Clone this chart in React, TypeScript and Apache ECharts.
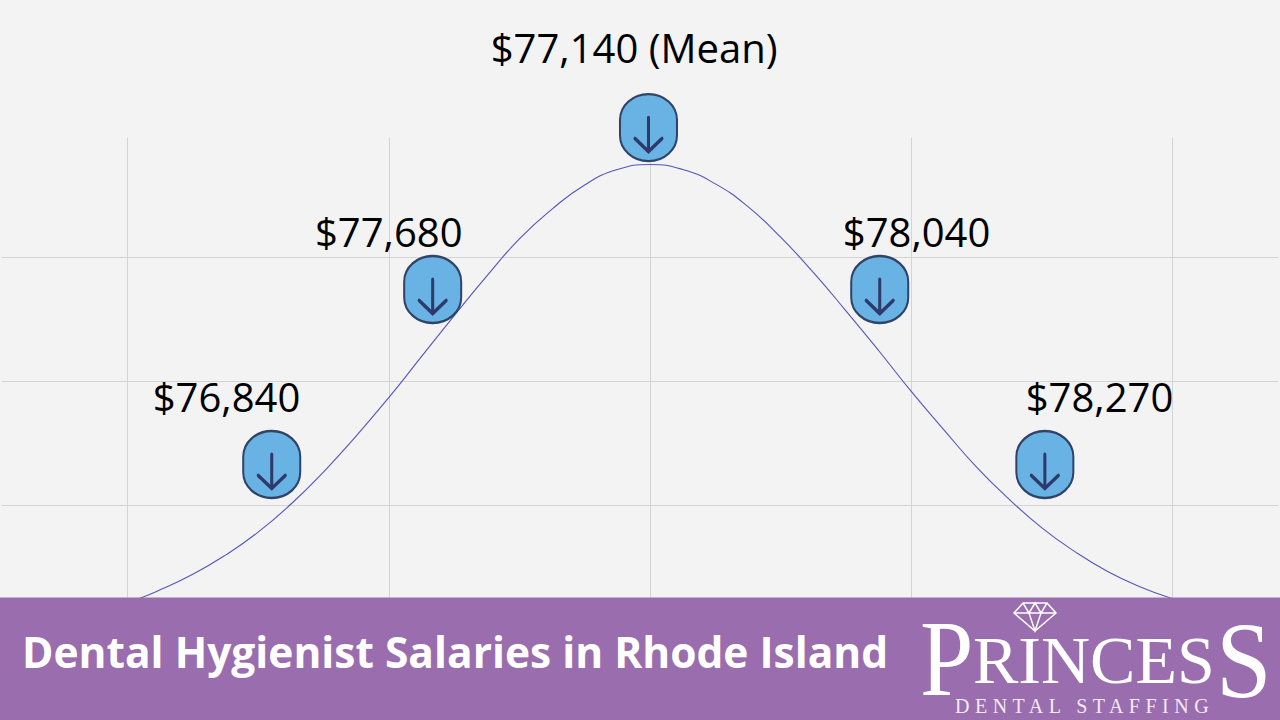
import React, { useEffect, useRef } from "react";
import * as echarts from "echarts";

const TITLE = "Dental Hygienist Salaries in Rhode Island";
const SALARY_LABELS = ["$76,840", "$77,680", "$77,140 (Mean)", "$78,040", "$78,270"];
const pinX = [-1.448, -0.832, -0.006, 0.879, 1.511];
const pinY = [1.331, 2.742, 4.048, 2.742, 1.331];
const labelX = [-1.621, -1.0, -0.061, 1.02, 1.72];
const labelY = [1.883, 3.21, 4.693, 3.21, 1.883];
const curveX = [-2.125, -2, -1.875, -1.75, -1.625, -1.5, -1.375, -1.25, -1.125, -1, -0.875, -0.75, -0.625, -0.5, -0.375, -0.25, -0.125, 0, 0.125, 0.25, 0.375, 0.5, 0.625, 0.75, 0.875, 1, 1.125, 1.25, 1.375, 1.5, 1.625, 1.75, 1.875, 2, 2.125];
const curveY = [0.135, 0.215, 0.32, 0.445, 0.6, 0.785, 1.01, 1.27, 1.56, 1.87, 2.2, 2.53, 2.85, 3.15, 3.39, 3.585, 3.71, 3.75, 3.71, 3.594, 3.41, 3.164, 2.88, 2.57, 2.25, 1.92, 1.61, 1.31, 1.05, 0.82, 0.63, 0.47, 0.345, 0.25, 0.175];

const PILL = "path://M29 0 A29 26 0 0 1 58 26 V42 A29 26 0 0 1 0 42 V26 A29 26 0 0 1 29 0 Z";
const ARROW = "path://M14 0 V34 M1 21 L14 34 L27 21";
const DIAMOND = "M10 1 H34 L43 11 L22 29 L1 11 Z M1 11 H43 M10 1 L16 11 L22 29 L28 11 L34 1 M16 11 L22 1 L28 11";
echarts.graphic.registerShape("gem", echarts.graphic.extendPath(DIAMOND, {}) as any);

const hiddenAxis = (extra: object) => ({
  type: "value",
  axisLine: { show: false },
  axisTick: { show: false },
  axisLabel: { show: false },
  splitLine: { show: false },
  ...extra,
});
const GRID_LINE = { show: true, lineStyle: { color: "#d4d4d4", width: 1 } };

export default function App() {
  const ref = useRef<HTMLDivElement>(null);
  useEffect(() => {
    document.body.style.margin = "0";
    const chart = echarts.init(ref.current!, null, { renderer: "svg" });
    chart.setOption({
      animation: false,
      backgroundColor: "#f3f3f3",
      grid: [
        { left: 127.5, width: 1045, top: 137.5, height: 460 },
        { left: 2, width: 1276, top: 137.5, height: 492 },
        { left: 0, width: 1280, top: 0, height: 629.5 },
      ],
      xAxis: [
        hiddenAxis({ gridIndex: 0, min: -2, max: 2, interval: 1, splitLine: GRID_LINE }),
        hiddenAxis({ gridIndex: 1, min: 0, max: 1 }),
        hiddenAxis({ gridIndex: 2, min: -2.488, max: 2.411 }),
      ],
      yAxis: [
        hiddenAxis({ gridIndex: 0, min: 0.258, max: 3.968 }),
        hiddenAxis({ gridIndex: 1, min: 0, max: 3.968, interval: 1, splitLine: { ...GRID_LINE, showMaxLine: false } }),
        hiddenAxis({ gridIndex: 2, min: 0, max: 5.077 }),
      ],
      series: [
        {
          type: "line",
          xAxisIndex: 0,
          yAxisIndex: 0,
          smooth: 0.5,
          showSymbol: false,
          silent: true,
          lineStyle: { color: "#5555b8", width: 1.1 },
          data: curveX.map((x, i) => [x, curveY[i]]),
        },
        {
          type: "scatter",
          xAxisIndex: 2,
          yAxisIndex: 2,
          symbol: PILL,
          symbolSize: [57, 67],
          itemStyle: { color: "#69b3e4", borderColor: "#2f4468", borderWidth: 2.2, opacity: 1 },
          data: pinX.map((x, i) => [x, pinY[i]]),
          z: 3,
        },
        {
          type: "scatter",
          xAxisIndex: 2,
          yAxisIndex: 2,
          symbol: ARROW,
          symbolSize: [27, 34],
          symbolOffset: [0, 7],
          itemStyle: { color: "transparent", borderColor: "#2d3a6b", borderWidth: 3.4, borderCap: "round", opacity: 1 },
          data: pinX.map((x, i) => [x, pinY[i]]),
          z: 4,
        },
        {
          type: "scatter",
          xAxisIndex: 2,
          yAxisIndex: 2,
          symbolSize: 0,
          itemStyle: { opacity: 1 },
          label: {
            show: true,
            position: "inside",
            formatter: (p: any) => SALARY_LABELS[p.dataIndex],
            color: "#000",
            fontFamily: "Open Sans",
            fontSize: 40,
          },
          data: labelX.map((x, i) => [x, labelY[i]]),
          z: 5,
        },
      ],
      graphic: [
        { type: "rect", z: 100, shape: { x: 0, y: 597.5, width: 1280, height: 122.5 }, style: { fill: "#9a6dae" } },
        { type: "text", z: 101, x: 22, y: 651, style: { text: TITLE, fill: "#fff", font: "bold 42.5px 'Open Sans'", textVerticalAlign: "middle" } },
        { type: "gem", z: 101, x: 1013, y: 602, style: { fill: "none", stroke: "#fff", lineWidth: 1.5 } },
        { type: "text", z: 101, x: 920, y: 713, scaleY: 1.13, style: { text: "P", fill: "#fff", font: "96px 'Liberation Serif'", textVerticalAlign: "bottom" } },
        { type: "text", z: 101, x: 973, y: 694, style: { text: "RINCES", fill: "#fff", font: "68px 'Liberation Serif'", textVerticalAlign: "bottom" } },
        { type: "text", z: 101, x: 1216, y: 715, scaleY: 1.09, style: { text: "S", fill: "#fff", font: "100px 'Liberation Serif'", textVerticalAlign: "bottom" } },
        { type: "text", z: 101, x: 955, y: 706, style: { text: "DENTAL STAFFING", fill: "#f4e9f7", font: "20px 'Liberation Serif'", textVerticalAlign: "middle" } },
      ],
    });
    ref.current!.querySelectorAll("text").forEach((t) => {
      if (t.textContent === "DENTAL STAFFING") (t as SVGTextElement).style.letterSpacing = "5.5px";
    });
    return () => chart.dispose();
  }, []);
  return <div ref={ref} style={{ width: 1280, height: 720 }} />;
}
